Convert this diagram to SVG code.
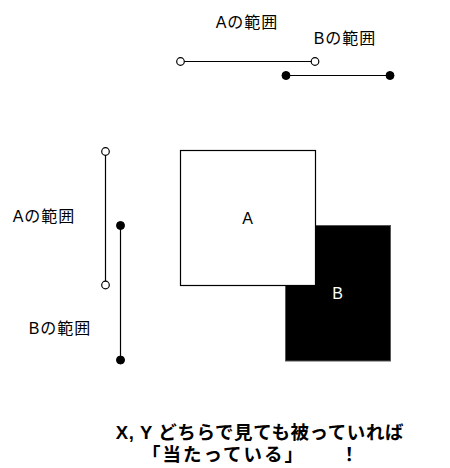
<svg xmlns="http://www.w3.org/2000/svg" width="450" height="468" viewBox="0 0 450 468">
<style>
text{font-family:"Liberation Sans","Noto Sans CJK JP",sans-serif;font-size:16px;fill:#000}
.l{letter-spacing:1px}
.b{font-weight:bold;font-size:18.5px}
.ln{stroke:#000;stroke-width:1.2;fill:none}
.o{fill:#fff;stroke:#000;stroke-width:1.2}
.f{fill:#000;stroke:#000;stroke-width:1}
</style>
<rect width="450" height="468" fill="#fff"/>
<g id="connectors">
<line class="ln" x1="180.5" y1="61.5" x2="315" y2="61.5"/>
<line class="ln" x1="286" y1="75.5" x2="390" y2="75.5"/>
<line class="ln" x1="105.5" y1="151.5" x2="105.5" y2="285"/>
<line class="ln" x1="120.5" y1="225.5" x2="120.5" y2="360"/>
</g>
<g id="rangeA-x"><circle class="o" cx="180.5" cy="61.5" r="3.8"/><circle class="o" cx="315" cy="61.5" r="3.8"/></g>
<g id="rangeB-x"><circle class="f" cx="286" cy="75.5" r="4"/><circle class="f" cx="390" cy="75.5" r="4"/></g>
<g id="rangeA-y"><circle class="o" cx="105.5" cy="151.5" r="3.8"/><circle class="o" cx="105.5" cy="285" r="3.8"/></g>
<g id="rangeB-y"><circle class="f" cx="120.5" cy="225.5" r="4"/><circle class="f" cx="120.5" cy="360" r="4"/></g>
<g id="labelA-top"><text class="l" x="247" y="28" text-anchor="middle">Aの範囲</text></g>
<g id="labelB-top"><text class="l" x="345" y="44" text-anchor="middle">Bの範囲</text></g>
<g id="labelA-left"><text class="l" x="44" y="222" text-anchor="middle">Aの範囲</text></g>
<g id="labelB-left"><text class="l" x="60" y="334" text-anchor="middle">Bの範囲</text></g>
<g id="boxB"><rect x="285.5" y="225.5" width="105" height="135.5" fill="#000" stroke="#555" stroke-width="1"/><text x="337.5" y="299" text-anchor="middle" style="fill:#fff">B</text></g>
<g id="boxA"><rect x="180.5" y="150.5" width="135" height="135" fill="#fff" stroke="#000" stroke-width="1.2"/><text x="247.5" y="224" text-anchor="middle">A</text></g>
<g id="caption">
<text class="b" x="260" y="439" text-anchor="middle" letter-spacing="0.6">X, Y どちらで見ても被っていれば</text>
<text class="b" y="461" letter-spacing="2"><tspan x="142">「当たっている」</tspan><tspan x="340">！</tspan></text>
</g>
</svg>
